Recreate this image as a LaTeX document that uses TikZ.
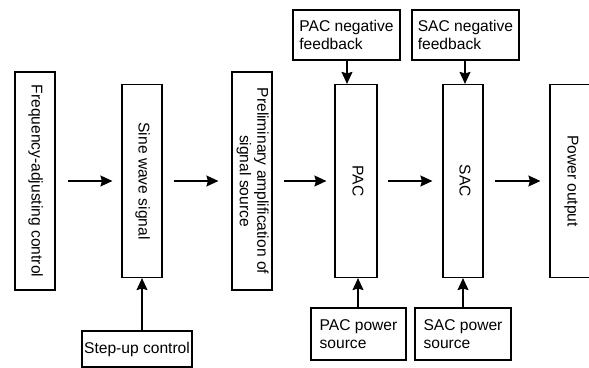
\documentclass[tikz,border=0pt]{standalone}
\usepackage{fontspec}
\setmainfont{Liberation Sans}
\usepackage{graphicx}
\usetikzlibrary{arrows.meta}
\tikzset{
  blk/.style={draw, line width=1.2pt, rectangle, inner sep=0pt, align=center, font=\fontsize{15.6}{17.5}\selectfont},
  lbox/.style={draw, line width=1.2pt, rectangle, inner sep=0pt, align=left, font=\fontsize{15.6}{17.5}\selectfont},
  arr/.style={line width=1.3pt, -{Stealth[length=12pt,width=11pt,inset=1.5pt]}}
}
\newcommand{\vtext}[1]{\rotatebox{-90}{\begin{tabular}{@{}c@{}}#1\end{tabular}}}
\begin{document}
\begin{tikzpicture}[x=1pt,y=1pt]
\clip (0,0) rectangle (589,367);
\node[blk, minimum width=40pt, minimum height=218pt] (freq) at (35,186) {\vtext{Frequency-adjusting control}};
\node[blk, minimum width=40pt, minimum height=193pt] (sine) at (142,186) {\vtext{Sine wave signal}};
\node[blk, minimum width=40pt, minimum height=218pt] (pre) at (252,186) {\vtext{Preliminary amplification of\\signal source}};
\node[blk, minimum width=42pt, minimum height=193pt] (pac) at (356,186) {\vtext{PAC}};
\node[blk, minimum width=40pt, minimum height=193pt] (sac) at (463,186) {\vtext{SAC}};
\node[blk, minimum width=42pt, minimum height=193pt] (pow) at (571,186) {\vtext{Power output}};
\node[blk, minimum width=110pt, minimum height=36pt] (step) at (137,18) {Step-up control};
\node[lbox, minimum width=107pt, minimum height=50pt] (pacnf) at (346.5,332) {PAC negative\\feedback};
\node[lbox, minimum width=107pt, minimum height=50pt] (sacnf) at (465.5,332) {SAC negative\\feedback};
\node[lbox, minimum width=95pt, minimum height=52pt] (pacps) at (358.5,33) {PAC power\\source};
\node[lbox, minimum width=96pt, minimum height=52pt] (sacps) at (463,33) {SAC power\\source};

\draw[arr] ([xshift=12pt]freq.east) -- ([xshift=-9pt]sine.west);
\draw[arr] ([xshift=11pt]sine.east) -- ([xshift=-13pt]pre.west);
\draw[arr] ([xshift=11pt]pre.east) -- ([xshift=-8pt]pac.west);
\draw[arr] ([xshift=10pt]pac.east) -- ([xshift=-10pt]sac.west);
\draw[arr] ([xshift=11pt]sac.east) -- ([xshift=-9pt]pow.west);
\draw[arr] (step.north -| sine.south) -- (sine.south);
\draw[arr] (pacnf.south -| pac.north) ++(-9,0) -- ([xshift=-9pt]pac.north);
\draw[arr] (sacnf.south -| sac.north) ++(2,0) -- ([xshift=2pt]sac.north);
\draw[arr] (pacps.north -| pac.south) ++(2,0) -- ([xshift=2pt]pac.south);
\draw[arr] (sacps.north -| sac.south) -- (sac.south);
\end{tikzpicture}
\end{document}
